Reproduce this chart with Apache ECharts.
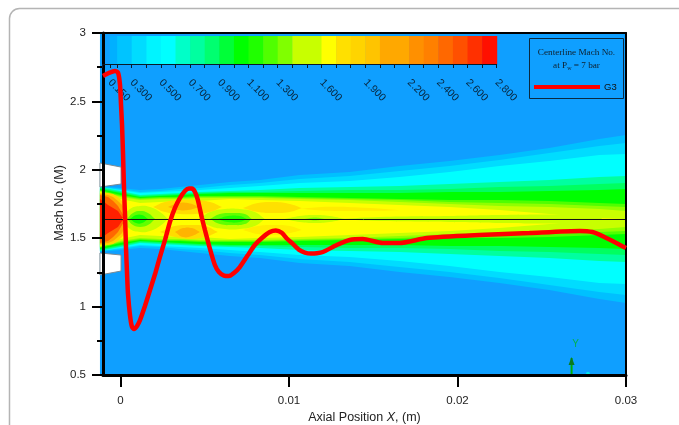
<!DOCTYPE html>
<html><head><meta charset="utf-8">
<style>html,body{margin:0;padding:0;background:#fff}#c{width:679px;height:425px}</style>
<script src="https://cdn.jsdelivr.net/npm/echarts@6/dist/echarts.min.js"></script>
</head><body><div id="c"></div>
<script>
// Axes
const xTicks = [0, 0.01, 0.02, 0.03];
const centerMach = 1.64;
const centerLineMach = 1.6367;

// Red curve G3 (axial position, Mach No.)
const g3X = [-0.00104,-0.00068,-0.00033,-0.00015,-0.00003,0.00003,0.00009,0.00015,0.00021,0.00027,0.00033,0.00039,0.00044,0.00056,0.00068,0.0008,0.00098,0.00116,0.00145,0.00175,0.00205,0.00234,0.00264,0.00293,0.00323,0.00353,0.00382,0.00406,0.00424,0.00442,0.00459,0.00483,0.00501,0.00531,0.0056,0.00584,0.00614,0.00643,0.00673,0.00708,0.00756,0.00797,0.00839,0.00886,0.00922,0.00957,0.00987,0.01023,0.01058,0.01094,0.01129,0.01165,0.01201,0.01283,0.0136,0.01438,0.01556,0.01656,0.01817,0.02131,0.02427,0.02724,0.02801,0.02872,0.03];
const g3M = [2.686,2.708,2.722,2.711,2.62,2.474,2.327,2.108,1.852,1.655,1.414,1.231,1.099,0.939,0.851,0.836,0.858,0.902,1.004,1.121,1.238,1.363,1.487,1.618,1.721,1.794,1.845,1.863,1.863,1.838,1.779,1.648,1.56,1.421,1.304,1.253,1.227,1.224,1.246,1.289,1.377,1.45,1.501,1.545,1.556,1.54,1.498,1.458,1.417,1.395,1.388,1.39,1.399,1.45,1.487,1.494,1.465,1.465,1.501,1.523,1.538,1.553,1.545,1.509,1.428];

// Colour bar
const barLevels = [0.1,0.15,0.2,0.3,0.4,0.5,0.6,0.7,0.8,0.9,1.0,1.1,1.2,1.3,1.4,1.5,1.6,1.7,1.8,1.9,2.0,2.1,2.2,2.3,2.4,2.5,2.6,2.7,2.8];
const barColors = ['#0f9fff','#00b0ff','#00c4ff','#00dcff','#00f4ff','#00ffff','#00ffc8','#00ffa0','#00ff70','#00ff38','#00ff00','#20ff00','#50ff00','#80ff00','#c8ff00','#c8ff00','#ffff00','#ffe000','#ffd400','#ffc400','#ffa800','#ffa800','#ff9000','#ff8000','#ff6800','#ff5000','#ff3000','#ff1000'];
const barLabels = [0.15,0.3,0.5,0.7,0.9,1.1,1.3,1.6,1.9,2.2,2.4,2.6,2.8];

// Contour field: half widths of the jet about the centreline
const fieldX = [-0.00122,0,0.00116,0.00234,0.00353,0.00471,0.00649,0.00827,0.01063,0.0136,0.01656,0.01953,0.02249,0.02545,0.02842,0.03];
const bandA = [.241,.227,.212,.219,.234,.249,.270,.285,.322,.344,.387,.424,.468,.519,.585,.614];
const bandB = [.234,.219,.197,.205,.219,.227,.249,.263,.292,.314,.351,.387,.431,.482,.534,.556];
const bandC = [.234,.212,.190,.197,.205,.212,.227,.241,.263,.278,.307,.344,.387,.424,.468,.475];
const bandD = [.234,.205,.175,.183,.190,.197,.205,.212,.227,.234,.241,.256,.270,.285,.307,.314];
const bandE = [.227,.197,.168,.175,.183,.190,.197,.197,.205,.212,.212,.219,.234,.241,.256,.263];
const bandF = [.219,.190,.161,.168,.175,.183,.190,.190,.190,.190,.190,.197,.197,.205,.212,.219];
const bandG = [.212,.175,.154,.161,.161,.168,.168,.168,.161,.154,.146,.139,.139,.132,.117,.110];
const bandG2 = [.205,.168,.146,.154,.154,.161,.161,.161,.154,.146,.139,.124,.117,.110,.095,.088];
const bandH = [.205,.161,.139,.146,.146,.154,.154,.154,.146,.139,.124,.110,.095,.088,.073,.058];
const bandI = [.197,.146,.117,.124,.132,.132,.146,.139,.132,.117,.102,.088,.066,.037,.007,0];

// Nozzle-exit core
const coreX = [-0.00122,-0.00074,-0.00044,-0.00015,0.00009,0.00033,0.00056];
const coreGold = [.190,.190,.183,.161,.132,.088,0];
const coreOrange = [.183,.175,.161,.132,.102,.044,0];
const coreDeep = [.175,.161,.132,.095,.044,0,0];
const coreRed = [.146,.102,.080,.058,.015,0,0];

// Centre cells (x, half width)
const cell1X = [0.00009,0.00056,0.00116,0.00175,0.00234,0.00282];
const cell1H = [0,.073,.095,.088,.051,0];
const cell1bX = [0.00039,0.00074,0.00116,0.00163,0.00205];
const cell1bH = [0,.044,.058,.044,0];
const cell1cX = [0.00056,0.00092,0.00128,0.00163];
const cell1cH = [0,.029,.029,0];
const cell2X = [0.00471,0.00531,0.0062,0.00708,0.00797,0.00856];
const cell2H = [0,.051,.073,.073,.051,0];
const cell2bX = [0.00531,0.0059,0.00661,0.00738,0.00779];
const cell2bH = [0,.037,.044,.037,0];
const cell2cX = [0.00578,0.00637,0.00708,0.0075];
const cell2cH = [0,.022,.022,0];
const cell3X = [0.00975,0.01064,0.01153,0.01242,0.01331];
const cell3H = [0,.022,.029,.022,0];
const cell3bX = [0.01094,0.01153,0.01212];
const cell3bH = [0,.011,0];
const coreLineX = [0.01301,0.01538,0.01953,0.02249,0.02545,0.02842];
const coreLineH = [0,.015,.022,.029,.033,.03];

// Off-centre cells (x, upper offset, lower offset)
const up1X = [0.00193,0.00264,0.00353,0.00442,0.00531,0.00602];
const up1T = [.088,.124,.139,.139,.124,.088];
const up1B = [.088,.051,.037,.037,.051,.088];
const up1oX = [0.00282,0.00341,0.004,0.00471];
const up1oT = [.088,.117,.117,.088];
const up1oB = [.088,.066,.066,.088];
const lo1X = [0.00234,0.00323,0.00412,0.00501,0.00578];
const lo1T = [-.095,-.051,-.044,-.051,-.095];
const lo1B = [-.095,-.132,-.146,-.132,-.095];
const lo1oX = [0.00323,0.00371,0.00424,0.00471];
const lo1oT = [-.095,-.066,-.066,-.095];
const lo1oB = [-.095,-.132,-.124,-.095];
const up2X = [0.00726,0.00815,0.00916,0.01005,0.01076];
const up2T = [.080,.117,.124,.110,.080];
const up2B = [.080,.051,.044,.051,.080];
const lo2X = [0.00726,0.00815,0.00916,0.01005,0.01076];
const lo2T = [-.080,-.051,-.044,-.051,-.080];
const lo2B = [-.080,-.110,-.117,-.102,-.080];
const up3X = [0.01064,0.01242,0.01479,0.01656];
const up3T = [.075,.090,.080,.065];
const up3B = [.075,.060,.060,.065];

// Strip of the field left of the heavy axis line
const stripX = [-0.00122,-0.00104];
const stripT = [1.36,1.36];
const stripB = [-1.14,-1.14];

// Nozzle lips
const lipX = [-0.00122,0.00003,0.00003,-0.00122];
const lipUpper = [2.05,2.02,1.896,1.874];
const lipLower = [1.392,1.377,1.26,1.231];

// Coordinate triad
const triadX = [0.02677,0.02774];
const triadM = [0.5,0.624,0.727,0.51];

const blue = '#0f9fff';
const sym = (x, h, color) => ({x, top: h, bottom: h.map(v => -v), color});
const cell = (x, h, color) => Object.assign(sym(x, h, color), {s:1});
const regions = [
  {x:stripX, top:stripT, bottom:stripB, color:blue},
  sym(fieldX, bandA, '#00c0ff'), sym(fieldX, bandB, '#00dcff'), sym(fieldX, bandC, '#00ffff'),
  sym(fieldX, bandD, '#00ffa0'), sym(fieldX, bandE, '#00ff60'), sym(fieldX, bandF, '#00ff00'),
  sym(fieldX, bandG, '#50ff00'), sym(fieldX, bandG2, '#90ff00'), sym(fieldX, bandH, '#c8ff00'), sym(fieldX, bandI, '#ffff00'),
  sym(coreX, coreGold, '#ffd400'), sym(coreX, coreOrange, '#ffa800'),
  sym(coreX, coreDeep, '#ff6800'), sym(coreX, coreRed, '#ff2000'),
  cell(cell1X, cell1H, '#c8ff00'), cell(cell1bX, cell1bH, '#60ff00'), cell(cell1cX, cell1cH, '#10ff00'),
  cell(cell2X, cell2H, '#c8ff00'), cell(cell2bX, cell2bH, '#60ff00'), cell(cell2cX, cell2cH, '#20ff00'),
  cell(cell3X, cell3H, '#c8ff00'), cell(cell3bX, cell3bH, '#80ff00'),
  cell(coreLineX, coreLineH, '#c8ff00'),
  {x:up1X, top:up1T, bottom:up1B, color:'#ffdc00', s:1}, {x:up1oX, top:up1oT, bottom:up1oB, color:'#ffb400', s:1},
  {x:lo1X, top:lo1T, bottom:lo1B, color:'#ffdc00', s:1}, {x:lo1oX, top:lo1oT, bottom:lo1oB, color:'#ffb400', s:1},
  {x:up2X, top:up2T, bottom:up2B, color:'#ffe000', s:1}, {x:lo2X, top:lo2T, bottom:lo2B, color:'#ffee00', s:1},
  {x:up3X, top:up3T, bottom:up3B, color:'#ffec00', s:1}
];

const chart = echarts.init(document.getElementById('c'), null, {renderer:'canvas'});
const black = '#000';
const font = '"Liberation Sans", Arial, sans-serif';

chart.setOption({
  animation:false,
  backgroundColor:'#fff',
  textStyle:{fontFamily:font},
  grid:[
    {left:103, right:53, top:33, bottom:50, show:true, backgroundColor:blue, borderWidth:0, outerBoundsMode:'none'},
    {left:102.5, width:394.2, top:36, height:28, show:false, outerBoundsMode:'none'}
  ],
  xAxis:[
    {type:'value', gridIndex:0, min:-0.00104, max:0.03, position:'bottom', z:10,
     axisLine:{show:true,onZero:false,lineStyle:{color:black,width:3}},
     axisTick:{show:true,length:12,customValues:xTicks,lineStyle:{color:black,width:2}},
     axisLabel:{customValues:xTicks,margin:20,fontSize:11.5,color:'#222',fontFamily:font,formatter:v=>String(v)},
     splitLine:{show:false},
     name:'Axial Position {i|X}, (m)', nameLocation:'middle', nameGap:36, nameMoveOverlap:false,
     nameTextStyle:{fontSize:12.5,color:'#222',fontFamily:font,rich:{i:{fontStyle:'italic',fontSize:12.5,color:'#222',fontFamily:font}}}},
    {type:'value', gridIndex:0, min:-0.00104, max:0.03, position:'top', z:10,
     axisLine:{show:true,onZero:false,lineStyle:{color:black,width:2}},
     axisTick:{show:false}, axisLabel:{show:false}, splitLine:{show:false}},
    {type:'value', gridIndex:1, min:0.1, max:2.8, position:'bottom', z:10,
     axisLine:{show:true,onZero:false,lineStyle:{color:'#0a1a2a',width:1}},
     axisTick:{show:true,length:4,customValues:barLevels,lineStyle:{color:'#0a1a2a',width:1}},
     axisLabel:{customValues:barLabels,rotate:-45,margin:17,fontSize:10.5,color:'#08263e',fontFamily:font,formatter:v=>v.toFixed(3)},
     splitLine:{show:false}}
  ],
  yAxis:[
    {type:'value', gridIndex:0, min:0.5, max:3, interval:0.5, position:'left', z:10,
     axisLine:{show:true,onZero:false,lineStyle:{color:black,width:3}},
     axisTick:{show:true,length:11,lineStyle:{color:black,width:2}},
     minorTick:{show:true,splitNumber:2,length:6,lineStyle:{color:black,width:2}},
     axisLabel:{margin:17,fontSize:11.5,color:'#222',fontFamily:font},
     splitLine:{show:false},minorSplitLine:{show:false}},
    {type:'value', gridIndex:0, min:0.5, max:3, position:'right', z:10,
     axisLine:{show:true,onZero:false,lineStyle:{color:black,width:2}},
     axisTick:{show:false}, axisLabel:{show:false}, splitLine:{show:false}},
    {type:'value', gridIndex:1, min:0, max:1, position:'left', show:false, splitLine:{show:false}}
  ],
  legend:{show:true, data:['G3'], left:529, top:77, z:110, itemWidth:66, itemHeight:14, itemGap:4,
    textStyle:{fontSize:9.5,color:'#111',fontFamily:font,padding:[0,0,0,-1]}, icon:'path://M0,0H66V4H0Z', inactiveColor:'#f00'},
  series:[
    {type:'custom', name:'field', xAxisIndex:0, yAxisIndex:0, z:2, clip:false, silent:true,
     data:regions.map((r,i)=>[r.x[0],centerMach,i]),
     renderItem:(p,api)=>{
       const r = regions[api.value(2)];
       const pts = [];
       r.x.forEach((x,k)=>pts.push(api.coord([x,centerMach+r.top[k]])));
       for(let k=r.x.length-1;k>=0;k--) pts.push(api.coord([r.x[k],centerMach+r.bottom[k]]));
       return {type:'polygon',shape:{points:pts,smooth:r.s?0.45:0},style:{fill:r.color}};
     }},
    {type:'custom', name:'nozzle', xAxisIndex:0, yAxisIndex:0, z:3, clip:false, silent:true,
     data:[[lipX[0],lipUpper[0],0],[lipX[0],lipLower[0],1]],
     renderItem:(p,api)=>{
       const arr = api.value(2)===0?lipUpper:lipLower;
       return {type:'polygon',shape:{points:lipX.map((x,k)=>api.coord([x,arr[k]]))},style:{fill:'#fff',stroke:'#7a8a94',lineWidth:1}};
     }},
    {type:'line', name:'centre', xAxisIndex:0, yAxisIndex:0, z:4, symbol:'none', silent:true, clip:false,
     data:[[fieldX[0],centerLineMach],[0.03,centerLineMach]], lineStyle:{color:'#111',width:1}},
    {type:'custom', name:'triad', xAxisIndex:0, yAxisIndex:0, z:4, silent:true,
     data:[[triadX[0],triadM[0]]],
     renderItem:(p,api)=>{
       const a=api.coord([triadX[0],triadM[0]]), b=api.coord([triadX[0],triadM[1]]), c=api.coord([triadX[0],triadM[2]]), d=api.coord([triadX[1],triadM[3]]);
       return {type:'group',children:[
         {type:'line',shape:{x1:a[0],y1:a[1],x2:b[0],y2:b[1]},style:{stroke:'#00b000',lineWidth:2}},
         {type:'polygon',shape:{points:[[b[0]-3,b[1]+7],[b[0],b[1]-1],[b[0]+3,b[1]+7]]},style:{fill:'#0a7a20'}},
         {type:'text',style:{text:'Y',x:c[0]+4,y:c[1],fill:'#00b050',fontSize:10,fontFamily:font,align:'center',verticalAlign:'middle'}},
         {type:'circle',shape:{cx:d[0],cy:d[1],r:2},style:{fill:'#00e8e8'}}
       ]};
     }},
    {type:'line', name:'G3', xAxisIndex:0, yAxisIndex:0, z:20, symbol:'none', smooth:0.2, clip:false,
     data:g3X.map((x,i)=>[x,g3M[i]]), lineStyle:{color:'#ff0000',width:4.5}, itemStyle:{color:'#ff0000'}},
    {type:'custom', name:'colorbar', xAxisIndex:2, yAxisIndex:2, z:5, silent:true,
     data:barColors.map((c,i)=>[barLevels[i],barLevels[i+1],i]),
     renderItem:(p,api)=>{
       const a=api.coord([api.value(0),1]), b=api.coord([api.value(1),0]);
       return {type:'rect',shape:{x:a[0],y:a[1],width:b[0]-a[0]+0.5,height:b[1]-a[1]},style:{fill:barColors[api.value(2)]}};
     }}
  ],
  graphic:[
    {type:'rect',silent:true,z:-1,shape:{x:9.5,y:8.5,width:900,height:700,r:10},style:{fill:'none',stroke:'#b4b4b4',lineWidth:1.5}},
    {type:'text',silent:true,z:50,x:60,y:203,rotation:Math.PI/2,style:{text:'Mach No. (M)',fill:'#222',fontSize:12.5,fontFamily:font,align:'center',verticalAlign:'middle'}},
    {type:'rect',silent:true,z:100,shape:{x:529.5,y:38.5,width:94,height:60},style:{fill:blue,stroke:'#0a2a40',lineWidth:1}},
    {type:'text',silent:true,z:101,x:576.5,y:53,style:{text:'Centerline Mach No.',fill:'#10202c',fontSize:9.2,fontFamily:'"Liberation Serif",serif',align:'center',verticalAlign:'middle'}},
    {type:'text',silent:true,z:101,x:576.5,y:66,style:{text:'at P{s|w} = 7 bar',fill:'#10202c',fontSize:9.2,fontFamily:'"Liberation Serif",serif',align:'center',verticalAlign:'middle',rich:{s:{fontSize:6,fill:'#10202c',verticalAlign:'bottom',padding:[4,0,0,0],fontFamily:'"Liberation Serif",serif'}}}}
  ]
});
</script></body></html>
